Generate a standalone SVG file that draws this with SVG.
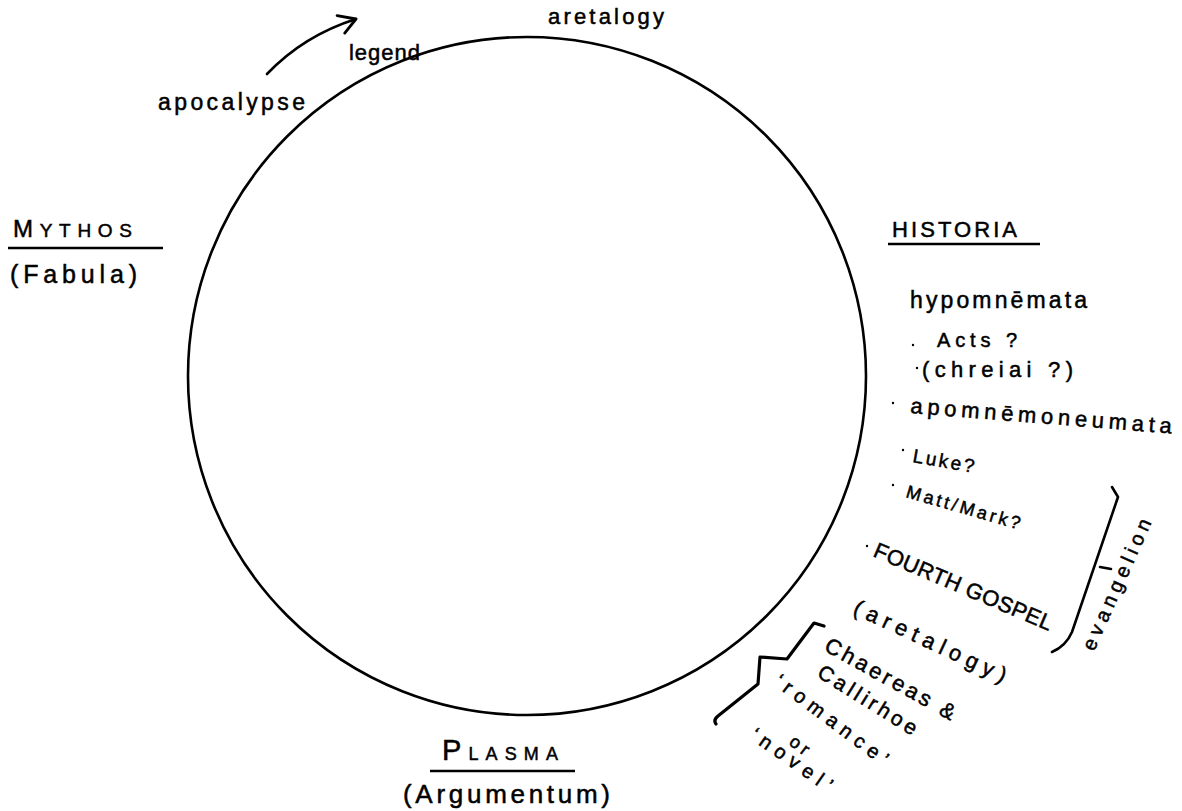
<svg xmlns="http://www.w3.org/2000/svg" width="1182" height="811" viewBox="0 0 1182 811">
  <defs>
    <style>
      .ink { fill: none; stroke: #000; stroke-width: 2.6; stroke-linecap: round; stroke-linejoin: round; }
      .hand { font-family: "Liberation Sans", "DejaVu Sans", sans-serif; fill: #000; stroke: #000; stroke-width: 0.5; }
      .rule { stroke: #000; stroke-width: 2.4; }
      .dot { fill: #000; }
    </style>
    <marker id="openHead" viewBox="0 0 24 24" refX="21" refY="12" markerWidth="24" markerHeight="24" markerUnits="userSpaceOnUse" orient="auto">
      <path d="M4,3 L21,12 L6,22" fill="none" stroke="#000" stroke-width="2.8" stroke-linecap="round" stroke-linejoin="round"/>
    </marker>
  </defs>
  <rect width="1182" height="811" fill="#fff"/>

  <!-- the great circle of narrative kinds -->
  <g id="circle">
    <circle class="ink" cx="527" cy="376" r="339"/>
  </g>

  <!-- connectors: movement arrow and brackets -->
  <g id="connectors">
    <path class="ink" d="M267,74 C288,52 315,32 356,19" marker-end="url(#openHead)"/>
    <path class="ink" d="M1112,487 L1118,497 L1072,632 Q1066,646 1052,652"/>
    <path class="ink" d="M1100,567 L1111,569"/>
    <path class="ink" d="M824,626 L814,623 L787,659 L760,657 L758,684 L718,716 Q713,720 716,724" style="stroke-width:3.2"/>
  </g>

  <!-- top labels -->
  <g id="aretalogy-top"><text class="hand" x="548" y="24" font-size="22" textLength="116" lengthAdjust="spacing">aretalogy</text></g>
  <g id="legend"><text class="hand" x="349" y="60" font-size="22" textLength="71" lengthAdjust="spacing">legend</text></g>
  <g id="apocalypse"><text class="hand" x="158" y="110" font-size="23" textLength="147" lengthAdjust="spacing">apocalypse</text></g>

  <!-- left pole -->
  <g id="mythos">
    <text class="hand" x="13" y="237" font-size="22" textLength="119" lengthAdjust="spacing"><tspan font-size="24">M</tspan><tspan font-size="19">YTHOS</tspan></text>
    <line class="rule" x1="8" y1="248" x2="163" y2="248"/>
    <text class="hand" x="10" y="283" font-size="25" textLength="127" lengthAdjust="spacing">(Fabula)</text>
  </g>

  <!-- right pole -->
  <g id="historia">
    <text class="hand" x="892" y="237" font-size="22" textLength="125" lengthAdjust="spacing">HISTORIA</text>
    <line class="rule" x1="888" y1="244" x2="1040" y2="244"/>
  </g>

  <g id="hypomnemata"><text class="hand" x="910" y="308" font-size="23" textLength="177" lengthAdjust="spacing">hypomnēmata</text></g>
  <g id="acts">
    <circle class="dot" cx="913" cy="345" r="1.2"/>
    <text class="hand" x="937" y="347" font-size="20" textLength="80" lengthAdjust="spacing">Acts ?</text>
  </g>
  <g id="chreiai">
    <circle class="dot" cx="917" cy="368" r="1.2"/>
    <text class="hand" x="922" y="377" font-size="22" textLength="151" lengthAdjust="spacing">(chreiai ?)</text>
  </g>
  <g id="apomnemoneumata">
    <circle class="dot" cx="893" cy="403" r="1.2"/>
    <text class="hand" transform="translate(910,413) rotate(4.5)" font-size="22" textLength="262" lengthAdjust="spacing">apomnēmoneumata</text>
  </g>
  <g id="luke">
    <circle class="dot" cx="903" cy="450" r="1.2"/>
    <text class="hand" transform="translate(912,462) rotate(10)" font-size="19" textLength="62" lengthAdjust="spacing">Luke?</text>
  </g>
  <g id="matt-mark">
    <circle class="dot" cx="893" cy="485" r="1.2"/>
    <text class="hand" transform="translate(905,497) rotate(16)" font-size="18" textLength="118" lengthAdjust="spacing">Matt/Mark?</text>
  </g>
  <g id="fourth-gospel">
    <circle class="dot" cx="867" cy="546" r="1.2"/>
    <text class="hand" transform="translate(872,556) rotate(23)" font-size="22" textLength="192" lengthAdjust="spacing">FOURTH GOSPEL</text>
  </g>
  <g id="aretalogy-paren"><text class="hand" transform="translate(852,613) rotate(25)" font-size="22" textLength="166" lengthAdjust="spacing">(aretalogy)</text></g>
  <g id="evangelion"><text class="hand" transform="translate(1094,652) rotate(-66)" font-size="20" textLength="142" lengthAdjust="spacing">evangelion</text></g>

  <g id="chaereas">
    <text class="hand" transform="translate(823,650) rotate(29)" font-size="22" textLength="146" lengthAdjust="spacing">Chaereas &amp;</text>
    <text class="hand" transform="translate(816,676) rotate(32)" font-size="21" textLength="113" lengthAdjust="spacing">Callirhoe</text>
  </g>
  <g id="romance-novel">
    <text class="hand" transform="translate(773,684) rotate(37)" font-size="20" textLength="137" lengthAdjust="spacing">‘romance’</text>
    <text class="hand" transform="translate(788,744) rotate(37)" font-size="18" textLength="20" lengthAdjust="spacing">or</text>
    <text class="hand" transform="translate(749,738) rotate(35)" font-size="20" textLength="95" lengthAdjust="spacing">‘novel’</text>
  </g>

  <!-- bottom pole -->
  <g id="plasma">
    <text class="hand" x="442" y="760" font-size="22" textLength="116" lengthAdjust="spacing"><tspan font-size="29">P</tspan><tspan font-size="18">LASMA</tspan></text>
    <line class="rule" x1="430" y1="771" x2="575" y2="771"/>
    <text class="hand" x="403" y="803" font-size="26" textLength="207" lengthAdjust="spacing">(Argumentum)</text>
  </g>
</svg>
